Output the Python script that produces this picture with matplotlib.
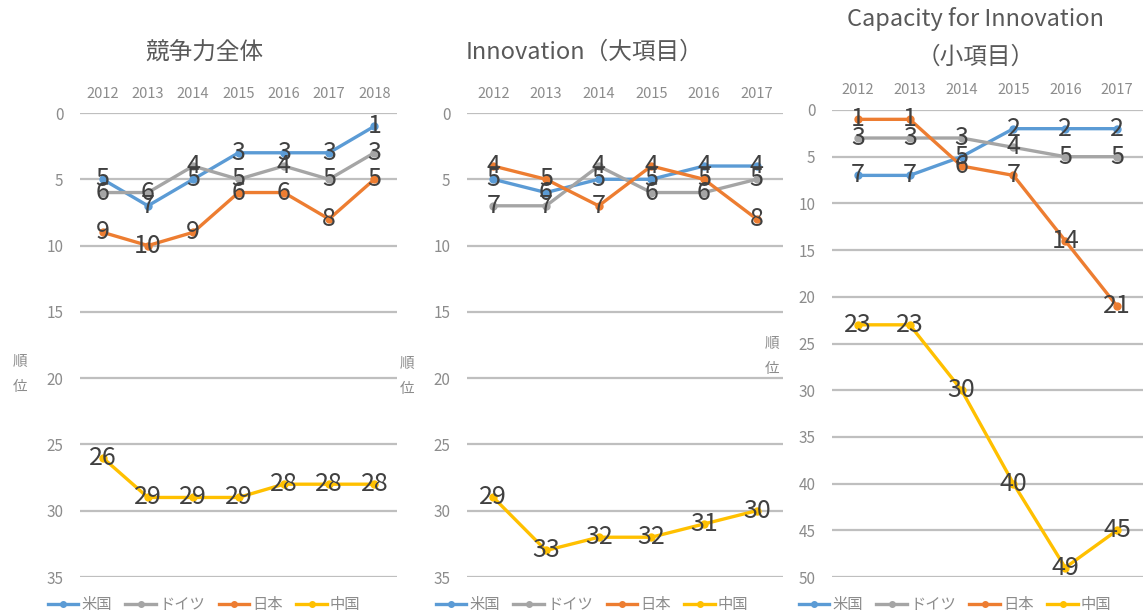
import matplotlib
matplotlib.use("Agg")
import matplotlib.pyplot as plt
from matplotlib.lines import Line2D

plt.rcParams['font.family'] = ['Noto Sans CJK JP', 'DejaVu Sans']

countries = ['米国', 'ドイツ', '日本', '中国']
colors = ['#5B9BD5', '#A5A5A5', '#ED7D31', '#FFC000']

years1 = ['2012', '2013', '2014', '2015', '2016', '2017', '2018']
us1 = [5, 7, 5, 3, 3, 3, 1]
de1 = [6, 6, 4, 5, 4, 5, 3]
jp1 = [9, 10, 9, 6, 6, 8, 5]
cn1 = [26, 29, 29, 29, 28, 28, 28]

years2 = ['2012', '2013', '2014', '2015', '2016', '2017']
us2 = [5, 6, 5, 5, 4, 4]
de2 = [7, 7, 4, 6, 6, 5]
jp2 = [4, 5, 7, 4, 5, 8]
cn2 = [29, 33, 32, 32, 31, 30]

years3 = ['2012', '2013', '2014', '2015', '2016', '2017']
us3 = [7, 7, 5, 2, 2, 2]
de3 = [3, 3, 3, 4, 5, 5]
jp3 = [1, 1, 6, 7, 14, 21]
cn3 = [23, 23, 30, 40, 49, 45]

titles = ['競争力全体', 'Innovation（大項目）', 'Capacity for Innovation\n（小項目）']
yticks1 = [0, 5, 10, 15, 20, 25, 30, 35]
yticks3 = [0, 5, 10, 15, 20, 25, 30, 35, 40, 45, 50]
ylabel = '順\n位'

W, H = 1145, 616
fig = plt.figure(figsize=(W / 100, H / 100), dpi=100)

def px_axes(x0, x1, y0, y1):
    return fig.add_axes([x0 / W, 1 - y1 / H, (x1 - x0) / W, (y1 - y0) / H])

panels = [
    dict(box=(80, 397, 113, 577), years=years1, series=[us1, de1, jp1, cn1], ymax=35, yticks=yticks1,
         title_xy=(204, 52), ylab_xy=(20, 374), leg_xy=(204, 605)),
    dict(box=(467, 783, 113, 577), years=years2, series=[us2, de2, jp2, cn2], ymax=35, yticks=yticks1,
         title_xy=(585, 52), ylab_xy=(407, 376), leg_xy=(592, 605)),
    dict(box=(832, 1143, 110, 577), years=years3, series=[us3, de3, jp3, cn3], ymax=50, yticks=yticks3,
         title_xy=(976, 38), ylab_xy=(772, 356), leg_xy=(955, 605)),
]

tick_color = '#8C8C8C'
label_color = '#404040'

for i, p in enumerate(panels):
    ax = px_axes(*p['box'])
    n = len(p['years'])
    xs = list(range(n))
    for vals, c in zip(p['series'], colors):
        ax.plot(xs, vals, color=c, lw=2.4, marker='o', ms=5, zorder=3, solid_capstyle='round')
    for vals in p['series']:
        for x, v in zip(xs, vals):
            ax.text(x, v, str(v), ha='center', va='center', fontsize=18, color=label_color, zorder=5)
    ax.set_xlim(-0.5, n - 0.5)
    ax.set_ylim(p['ymax'], 0)
    ax.set_yticks(p['yticks'])
    ax.set_xticks(xs)
    ax.set_xticklabels(p['years'])
    ax.xaxis.tick_top()
    ax.tick_params(axis='x', length=0, pad=9, labelsize=10.5, colors=tick_color)
    ax.tick_params(axis='y', length=0, pad=12, labelsize=11, colors=tick_color)
    ax.grid(axis='y', color='#BFBFBF', lw=1.6, zorder=1)
    ax.set_axisbelow(True)
    for s in ax.spines.values():
        s.set_visible(False)
    ax.patch.set_alpha(0)

    tx, ty = p['title_xy']
    fig.text(tx / W, 1 - ty / H, titles[i], ha='center', va='center', fontsize=17,
             color='#595959', linespacing=1.8)
    lx, ly = p['ylab_xy']
    fig.text(lx / W, 1 - ly / H, ylabel, ha='center', va='center', fontsize=10.5,
             color=tick_color, linespacing=2.0)
    handles = [Line2D([], [], color=c, lw=2.4, marker='o', ms=4) for c in colors]
    gx, gy = p['leg_xy']
    fig.legend(handles, countries, loc='center', bbox_to_anchor=(gx / W, 1 - gy / H), ncol=4,
               frameon=False, fontsize=11, handlelength=2.0, handletextpad=0.2,
               columnspacing=0.9, labelcolor=tick_color)

fig.savefig('out.png', dpi=100)
